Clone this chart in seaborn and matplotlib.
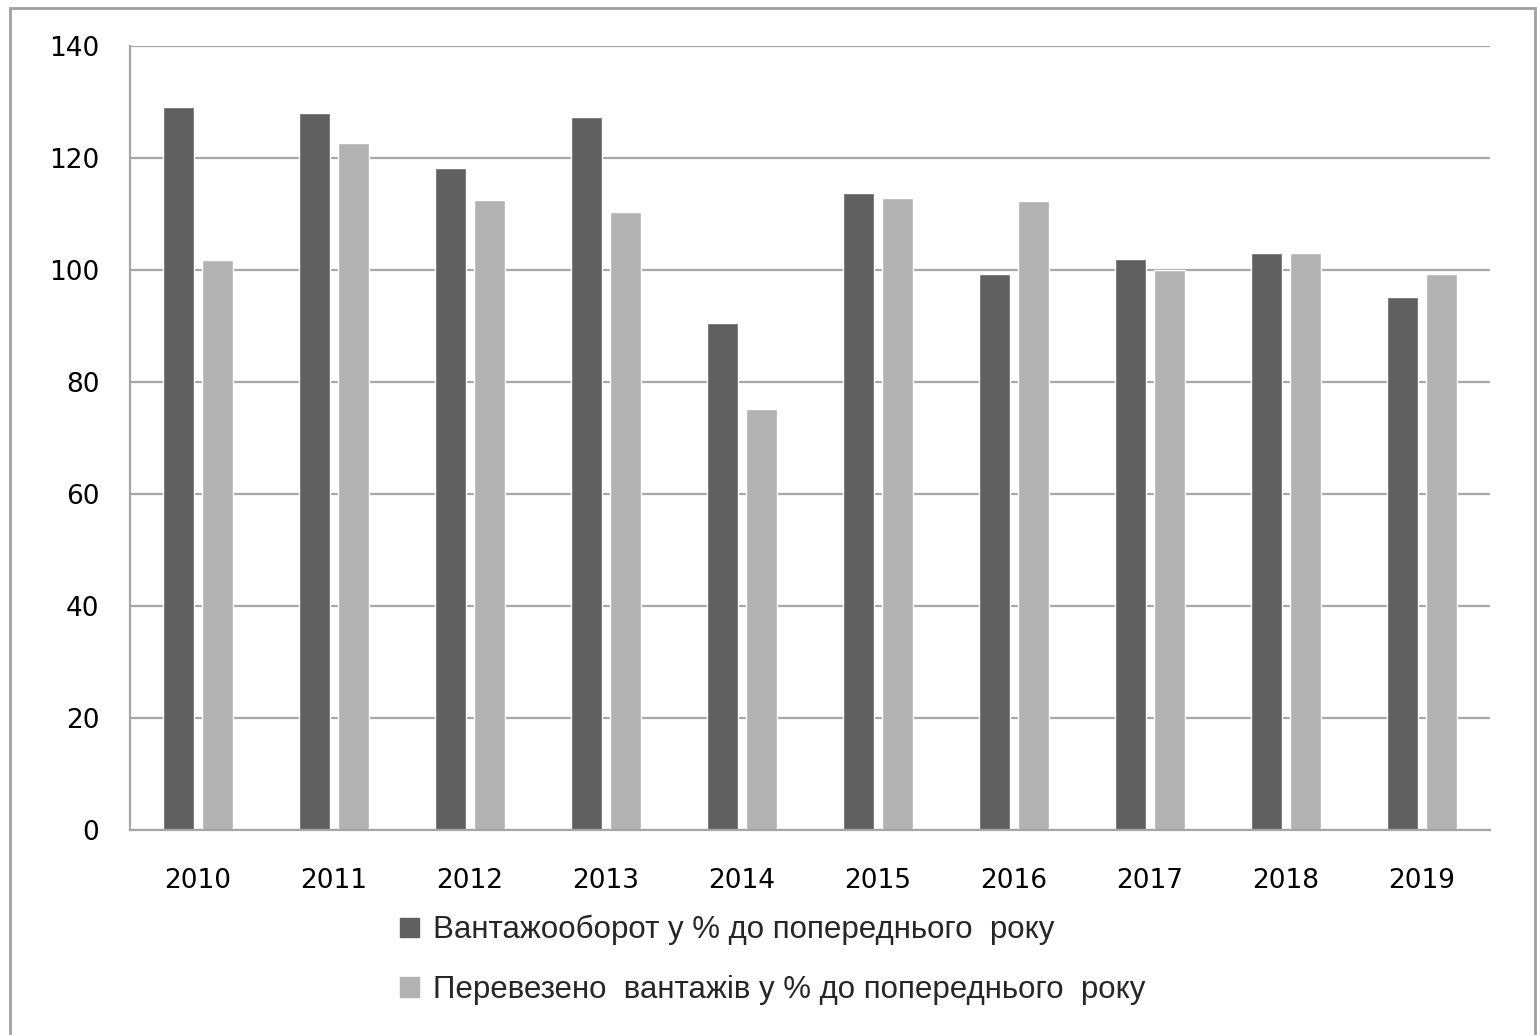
import matplotlib
matplotlib.use("Agg")
import matplotlib.pyplot as plt
import matplotlib.patches as mpatches
import seaborn as sns
import pandas as pd

# Data
years = ["2010", "2011", "2012", "2013", "2014", "2015", "2016", "2017", "2018", "2019"]
freight_turnover = [129.1, 128.1, 118.3, 127.3, 90.6, 113.8, 99.2, 101.9, 103.1, 95.2]
cargo_carried = [101.8, 122.7, 112.5, 110.4, 75.1, 112.8, 112.4, 100.0, 103.1, 99.2]
series_names = [
    "Вантажооборот у % до попереднього  року",
    "Перевезено  вантажів у % до попереднього  року",
]
y_ticks = [0, 20, 40, 60, 80, 100, 120, 140]

df = pd.DataFrame({
    "year": years * 2,
    "value": freight_turnover + cargo_carried,
    "series": [series_names[0]] * len(years) + [series_names[1]] * len(years),
})

sns.set_style("white")
plt.rcParams["font.family"] = ["DejaVu Sans"]

grid_color = "#a6a6a6"
palette = {series_names[0]: "#606060", series_names[1]: "#b2b2b2"}

fig = plt.figure(figsize=(15.4, 10.35), dpi=100)
ax = fig.add_axes([130 / 1540, 1 - 830 / 1035, 1360 / 1540, 784 / 1035])

sns.barplot(
    data=df, x="year", y="value", hue="series", palette=palette,
    width=0.58, gap=0.2, saturation=1, legend=False, ax=ax,
)

# axis styling, Excel-like
ax.set_ylim(0, 140)
ax.set_yticks(y_ticks)
ax.set_xlim(-0.5, len(years) - 0.5)
ax.yaxis.grid(True, color=grid_color, linewidth=1.6)
ax.set_axisbelow(True)
for side in ["top", "right"]:
    ax.spines[side].set_visible(False)
for side in ["left", "bottom"]:
    ax.spines[side].set_color(grid_color)
    ax.spines[side].set_linewidth(1.6)
ax.set_xlabel("")
ax.set_ylabel("")
ax.tick_params(axis="y", length=0, pad=22, labelsize=19, labelcolor="black")
ax.tick_params(axis="x", length=0, pad=27, labelsize=19, labelcolor="black")

# legend below the plot
handles = [mpatches.Patch(color=palette[s], label=s) for s in series_names]
fig.legend(
    handles=handles, loc="upper left", bbox_to_anchor=(372 / 1540, 1 - 887 / 1035),
    frameon=False, handlelength=0.6, handleheight=0.6, handletextpad=0.45,
    labelspacing=0.95, prop={"family": ["Liberation Sans Narrow", "Liberation Sans"], "size": 22.5},
)

# outer chart border
fig.patches.append(mpatches.Rectangle(
    (10 / 1540, -0.02), 1525 / 1540, 1 - 8 / 1035 + 0.02, transform=fig.transFigure,
    fill=False, edgecolor="#a0a0a0", linewidth=2,
))

plt.savefig("out.png", dpi=100)
